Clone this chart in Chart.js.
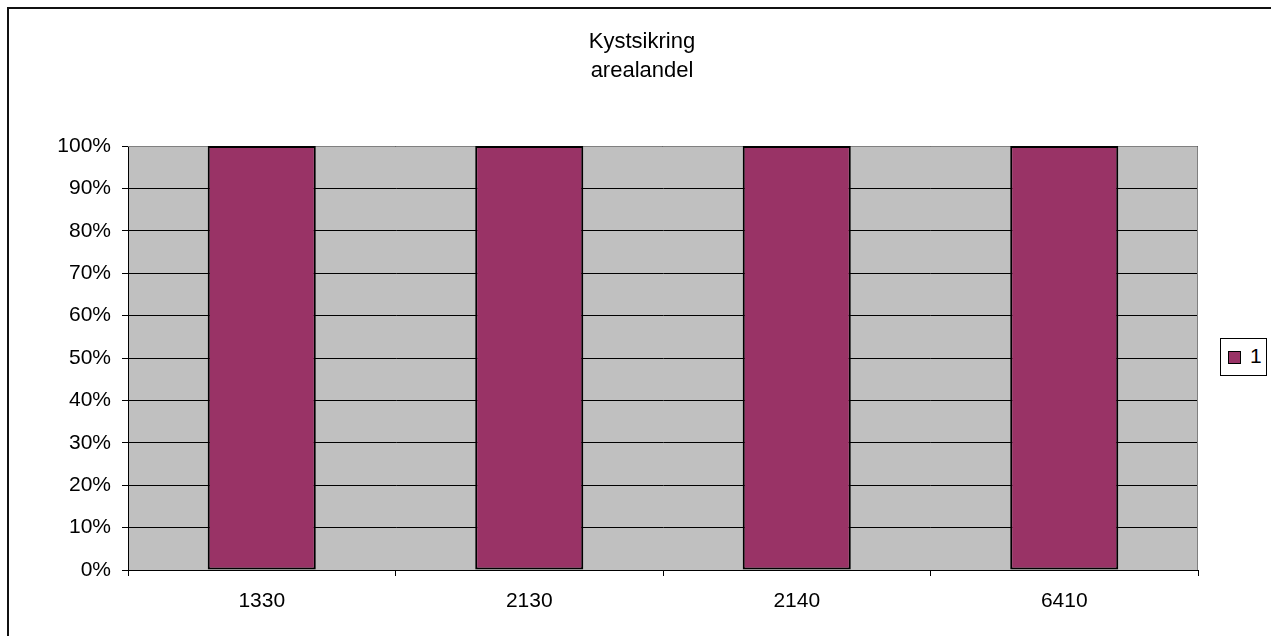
<!DOCTYPE html>
<html>
<head>
<meta charset="utf-8">
<title>Kystsikring arealandel</title>
<script src="https://cdn.jsdelivr.net/npm/chart.js@4/dist/chart.umd.min.js"></script>
<style>
    html, body { margin: 0; padding: 0; background: #fff; }
    body { width: 1271px; height: 636px; position: relative; overflow: hidden;
           font-family: "Liberation Sans", Arial, sans-serif; color: #000; }
    #ramme { position: absolute; left: 7px; top: 7px; width: 1400px; height: 700px;
             border-left: 2px solid #111; border-top: 2px solid #111; }
    #graf { position: absolute; left: 0; top: 0; }
    #tittel { position: absolute; left: 542px; top: 26px; width: 200px; text-align: center;
              font-size: 22px; line-height: 29px; }
    #forklaring { position: absolute; left: 1220px; top: 338px; width: 45px; height: 36px;
                  border: 1px solid #000; background: #fff; }
    #forklaring .merke { position: absolute; left: 7px; top: 12px; width: 11px; height: 11px;
                         border: 1.5px solid #000; }
    #forklaring .tekst { position: absolute; left: 29px; top: 5px; font-size: 21px; line-height: 24px; }
</style>
</head>
<body>
<div id="ramme"></div>
<canvas id="graf" width="1271" height="636"></canvas>
<div id="tittel">Kystsikring<br>arealandel</div>
<div id="forklaring"><div class="merke"></div><div class="tekst"></div></div>

<script>
// Kategorier og verdier
const kategorier = ["1330", "2130", "2140", "6410"];
const serieNavn = "1";
const andel = [100, 100, 100, 100];
const yMaks = 100;
const ySteg = 10;

const stolpeFarge = "#993366";
const plottFarge = "#C0C0C0";

// Grå bakgrunn og ramme for plottområdet
const plottBakgrunn = {
    id: "plottBakgrunn",
    beforeDraw(chart) {
        const { ctx, chartArea: a } = chart;
        ctx.save();
        ctx.fillStyle = plottFarge;
        ctx.fillRect(a.left, a.top, a.right - a.left, a.bottom - a.top);
        ctx.restore();
    },
    beforeDatasetsDraw(chart) {
        const { ctx, chartArea: a } = chart;
        ctx.save();
        ctx.strokeStyle = "#808080";
        ctx.lineWidth = 1;
        ctx.beginPath();
        ctx.moveTo(a.left, Math.round(a.top) + 0.5);
        ctx.lineTo(Math.round(a.right) - 0.5, Math.round(a.top) + 0.5);
        ctx.lineTo(Math.round(a.right) - 0.5, a.bottom);
        ctx.stroke();
        ctx.restore();
    }
};

const font = { family: "'Liberation Sans', Arial, sans-serif", size: 21 };

new Chart(document.getElementById("graf").getContext("2d"), {
    type: "bar",
    data: {
        labels: kategorier,
        datasets: [{
            label: serieNavn,
            data: andel,
            backgroundColor: stolpeFarge,
            borderColor: "#000",
            borderWidth: 2,
            borderSkipped: false,
            categoryPercentage: 0.404,
            barPercentage: 1,
        }],
    },
    options: {
        responsive: false,
        animation: false,
        layout: { padding: { top: 146, right: 73, bottom: 0, left: 0 } },
        plugins: {
            legend: { display: false },
            title: { display: false },
            tooltip: { enabled: false },
        },
        scales: {
            x: {
                offset: true,
                afterFit(scale) { scale.height = 66; },
                grid: { offset: true, drawOnChartArea: false, tickLength: 6, color: "#000" },
                border: { color: "#000" },
                ticks: { font, color: "#000", padding: 13, maxRotation: 0 },
            },
            y: {
                min: 0,
                max: yMaks,
                afterFit(scale) { scale.width = 128; },
                grid: { color: "#000", tickLength: 6 },
                border: { color: "#000" },
                ticks: {
                    stepSize: ySteg,
                    font,
                    color: "#000",
                    padding: 11,
                    callback: v => v + "%",
                },
            },
        },
    },
    plugins: [plottBakgrunn],
});

// Forklaring
document.querySelector("#forklaring .merke").style.background = stolpeFarge;
document.querySelector("#forklaring .tekst").textContent = serieNavn;
</script>
</body>
</html>
